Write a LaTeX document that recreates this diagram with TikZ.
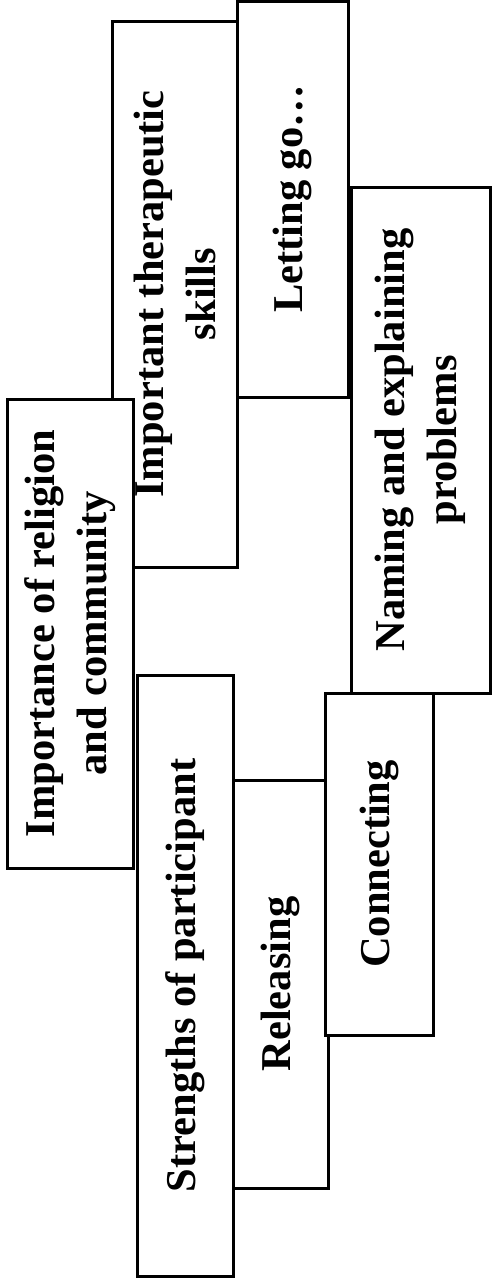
\documentclass[tikz,border=0pt]{standalone}
\usepackage{fontspec}
\setmainfont{Liberation Serif}

\begin{document}
\begin{tikzpicture}[
  x=1pt,y=-1pt,
  theme/.style={draw,line width=3pt,fill=white,rotate=90,inner sep=0pt,outer sep=0pt,
    align=center,font=\bfseries\fontsize{42.5}{52}\selectfont},
]
  \useasboundingbox (0,0) rectangle (493,1285);

  \node[theme,minimum width=396pt,minimum height=111pt] (letgo) at (292.5,199) {Letting go…};
  \node[theme,minimum width=546pt,minimum height=125pt] (skills) at (175,294) {Important therapeutic\\skills};
  \node[theme,minimum width=506pt,minimum height=139pt] (naming) at (420.5,440) {Naming and explaining\\problems};
  \node[theme,minimum width=469pt,minimum height=126pt] (relig) at (70,633.5) {Importance of religion\\and community};
  \node[theme,minimum width=601pt,minimum height=96pt] (strengths) at (185,975.5) {Strengths of participant};
  \node[theme,minimum width=408pt,minimum height=95pt] (releasing) at (280.5,984) {Releasing};
  \node[theme,minimum width=342pt,minimum height=108pt] (connecting) at (379,864) {Connecting};
\end{tikzpicture}
\end{document}
